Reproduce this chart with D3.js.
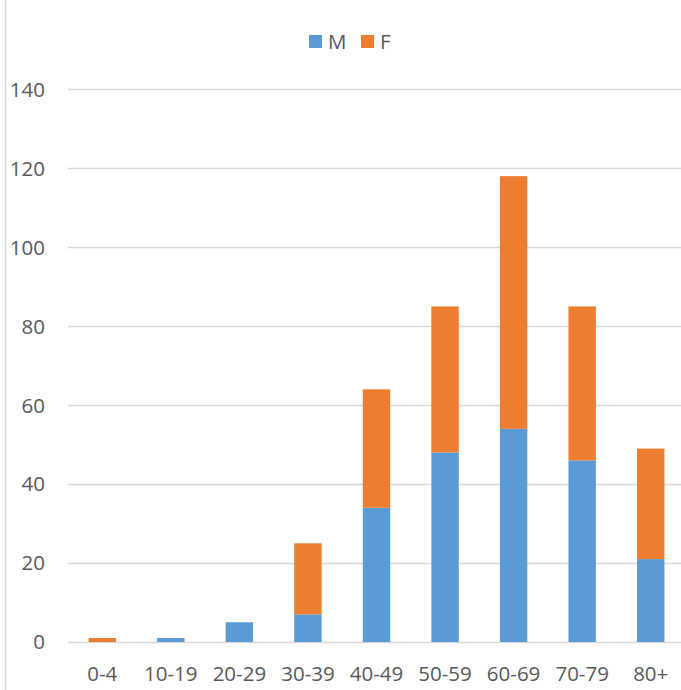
<!DOCTYPE html>
<html>
<head>
<meta charset="utf-8">
<script src="https://cdn.jsdelivr.net/npm/d3@7"></script>
<style>
  body { margin: 0; background: #fff; }
  text { font-family: "Open Sans", "Liberation Sans", sans-serif; fill: #595959; }
</style>
</head>
<body>
<div id="chart-container"></div>
<script>
const categories = ["0-4", "10-19", "20-29", "30-39", "40-49", "50-59", "60-69", "70-79", "80+"];
const maleValues = [0, 1, 5, 7, 34, 48, 54, 46, 21];
const femaleValues = [1, 0, 0, 18, 30, 37, 64, 39, 28];
const yTicks = [0, 20, 40, 60, 80, 100, 120, 140];
const seriesNames = ["M", "F"];

const COLORS = { M: "#5B9BD5", F: "#ED7D31" };

const W = 681, H = 690;
const plot = { left: 68, right: 685, top: 89.3, bottom: 642 };

const svg = d3.select("#chart-container")
  .append("svg")
  .attr("width", W)
  .attr("height", H);

// outer chart border (left edge visible)
svg.append("line")
  .attr("x1", 5.5).attr("x2", 5.5)
  .attr("y1", 0).attr("y2", H)
  .attr("stroke", "#D9D9D9")
  .attr("stroke-width", 1.5);

const x = d3.scaleBand().domain(categories).range([plot.left, plot.right]).paddingInner(0.6).paddingOuter(0.3);
const y = d3.scaleLinear().domain([0, 140]).range([plot.bottom, plot.top]);

// gridlines
svg.append("g")
  .selectAll("line")
  .data(yTicks)
  .join("line")
  .attr("x1", plot.left).attr("x2", W)
  .attr("y1", d => Math.round(y(d)) + 0.5)
  .attr("y2", d => Math.round(y(d)) + 0.5)
  .attr("stroke", "#D9D9D9")
  .attr("stroke-width", 1.3);

// y labels
svg.append("g")
  .selectAll("text")
  .data(yTicks)
  .join("text")
  .attr("x", 45)
  .attr("y", d => y(d))
  .attr("dy", "0.36em")
  .attr("text-anchor", "end")
  .attr("font-size", 20.5)
  .text(d => d);

// stacked bars
const rows = categories.map((c, i) => ({ cat: c, M: maleValues[i], F: femaleValues[i] }));
const stacked = d3.stack().keys(seriesNames)(rows);

stacked.forEach(layer => {
  svg.append("g")
    .selectAll("rect")
    .data(layer)
    .join("rect")
    .attr("x", d => x(d.data.cat))
    .attr("width", x.bandwidth())
    .attr("y", d => y(d[1]))
    .attr("height", d => y(d[0]) - y(d[1]))
    .attr("fill", COLORS[layer.key]);
});

// x labels
svg.append("g")
  .selectAll("text")
  .data(categories)
  .join("text")
  .attr("x", d => x(d) + x.bandwidth() / 2)
  .attr("y", 681)
  .attr("text-anchor", "middle")
  .attr("font-size", 20.5)
  .text(d => d);

// legend
const legend = svg.append("g");
const legendPos = [309, 361];
seriesNames.forEach((name, i) => {
  legend.append("rect")
    .attr("x", legendPos[i]).attr("y", 35)
    .attr("width", 13).attr("height", 13)
    .attr("fill", COLORS[name]);
  legend.append("text")
    .attr("x", legendPos[i] + 19).attr("y", 49)
    .attr("font-size", 20.5)
    .text(name);
});
</script>
</body>
</html>
